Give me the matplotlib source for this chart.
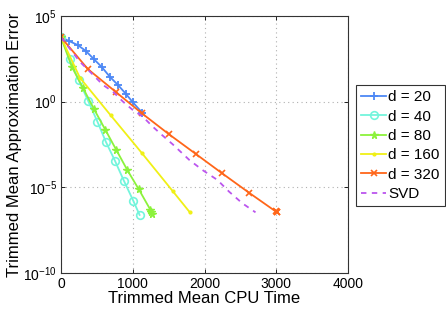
import matplotlib
matplotlib.use("Agg")
import matplotlib.pyplot as plt
import numpy as np
from matplotlib.ticker import NullLocator

plt.rcParams['font.family'] = ['Liberation Sans', 'DejaVu Sans']
plt.rcParams['mathtext.fontset'] = 'custom'
plt.rcParams['mathtext.rm'] = 'Liberation Sans'
plt.rcParams['mathtext.it'] = 'Liberation Sans:italic'

# data: (time, log10 error)
d20_t = [0, 111, 231, 346, 457, 573, 679, 795, 901, 1002, 1130]
d20_e = [3.76, 3.54, 3.31, 2.96, 2.49, 2.00, 1.46, 0.97, 0.47, -0.04, -0.64]

d40_t = [0, 120, 247, 379, 508, 624, 753, 878, 1007, 1095]
d40_e = [3.76, 2.50, 1.25, 0.04, -1.17, -2.33, -3.46, -4.63, -5.78, -6.61]

d80_t = [0, 150, 309, 462, 619, 771, 924, 1085, 1247, 1255, 1265]
d80_e = [3.76, 2.04, 0.78, -0.45, -1.65, -2.82, -3.99, -5.12, -6.32, -6.45, -6.55]

d160_t = [0, 263, 693, 1127, 1557, 1792]
d160_e = [3.76, 1.40, -0.80, -3.00, -5.22, -6.44]

d320_t = [0, 375, 760, 1127, 1501, 1875, 2245, 2619, 2990, 3005, 3015]
d320_e = [3.76, 1.90, 0.58, -0.68, -1.89, -3.04, -4.18, -5.31, -6.40, -6.44, -6.46]

svd_t = [0, 263, 448, 587, 725, 864, 1002, 1141, 1279, 1395, 1557, 1788, 1972, 2180, 2342, 2527, 2711]
svd_e = [3.76, 2.33, 1.56, 0.97, 0.58, 0.0, -0.49, -0.88, -1.46, -1.90, -2.49, -3.40, -3.99, -4.57, -5.25, -5.93, -6.46]

labels = ['d = 20', 'd = 40', 'd = 80', 'd = 160', 'd = 320', 'SVD']

fig = plt.figure(figsize=(4.46, 3.12), dpi=100)
ax = fig.add_axes([61/446, 1-273/312, (348-61)/446, (273-16)/312])

def p(e):
    return 10.0 ** np.array(e)

lw = 1.3
ax.plot(d20_t, p(d20_e), color='#4d88f5', lw=lw, marker='+', ms=6, mew=1.3, label=labels[0])
ax.plot(d40_t, p(d40_e), color='#73f5dc', lw=lw, marker='o', ms=5.5, mfc='none', mew=1.2, label=labels[1])
ax.plot(d80_t, p(d80_e), color='#8cf23c', lw=lw, marker='*', ms=5.5, mew=1.0, label=labels[2])
ax.plot(d160_t, p(d160_e), color='#f0f016', lw=lw, marker='.', ms=4, label=labels[3])
ax.plot(d320_t, p(d320_e), color='#ff6619', lw=lw, marker='x', ms=4, mew=1.2, label=labels[4])
ax.plot(svd_t, p(svd_e), color='#bb55ee', lw=lw, ls=(0, (3, 3)), label=labels[5])

ax.set_yscale('log')
ax.set_xlim(0, 4000)
ax.set_ylim(1e-10, 1e5)
ax.set_xticks([0, 1000, 2000, 3000, 4000])
ax.set_yticks([1e-10, 1e-5, 1e0, 1e5])
ax.yaxis.set_minor_locator(NullLocator())
ax.tick_params(direction='in', length=3, width=0.6, top=True, right=True, labelsize=10, pad=3)
ax.grid(True, which='major', ls=(0, (1, 3)), color='#b0b0b0', lw=0.8)
for s in ax.spines.values():
    s.set_linewidth(0.8)
    s.set_color('#333333')

ax.set_xlabel('Trimmed Mean CPU Time', fontsize=12, labelpad=0)
ax.set_ylabel('Trimmed Mean Approximation Error', fontsize=12, labelpad=1)

leg = fig.legend(loc='upper left', bbox_to_anchor=(356/446, 1-85/312), fontsize=11,
                 frameon=True, fancybox=False, edgecolor='black', handlelength=1.6,
                 handletextpad=0.15, labelspacing=0.35, borderpad=0.35, borderaxespad=0)
leg.get_frame().set_linewidth(0.8)

fig.savefig('out.png', dpi=100)
